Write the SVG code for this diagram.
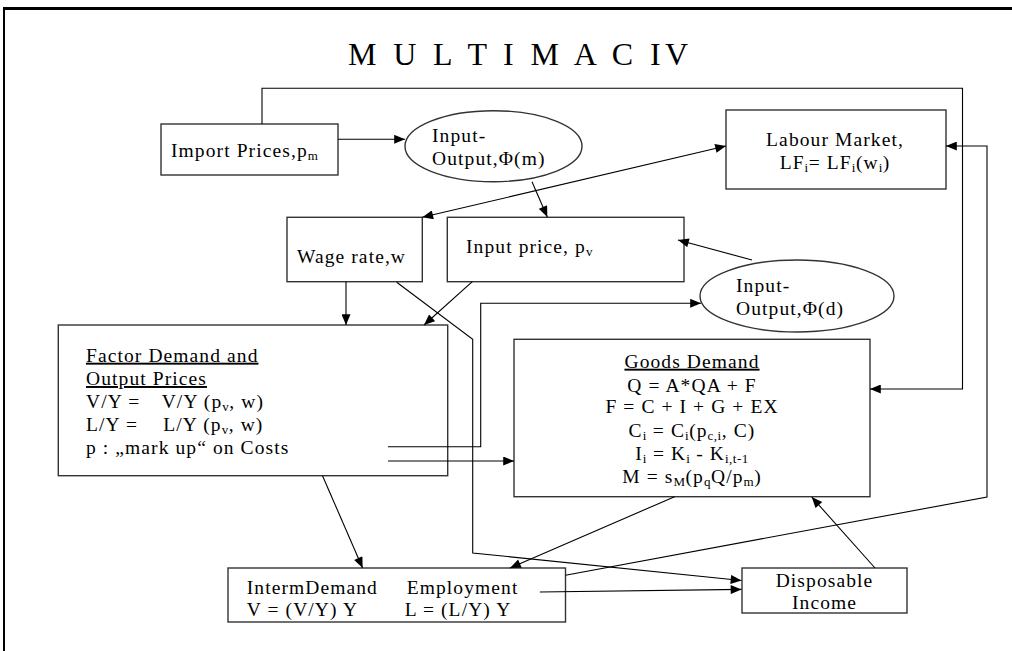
<svg xmlns="http://www.w3.org/2000/svg" width="1012" height="651" viewBox="0 0 1012 651">
<defs>
<marker id="ah" viewBox="0 0 12 10" refX="12" refY="5" markerWidth="12" markerHeight="9" markerUnits="userSpaceOnUse" orient="auto-start-reverse"><path d="M0,0 L12,5 L0,10 z" fill="#000"/></marker>
</defs>
<style>
.box{fill:#fff;stroke:#333;stroke-width:1.4}
.c{fill:none;stroke:#000;stroke-width:1.1}
text{font-family:"Liberation Serif","Times New Roman",serif;font-size:19.5px;letter-spacing:1.1px;fill:#000}
.s{font-size:13px;letter-spacing:0.5px}
.m{text-anchor:middle}
.u{text-decoration:underline}
</style>
<rect x="0" y="0" width="1012" height="651" fill="#fff"/>
<g id="frame">
<line x1="4" y1="8.5" x2="1012" y2="8.5" stroke="#000" stroke-width="3"/>
<line x1="4" y1="7" x2="4" y2="651" stroke="#000" stroke-width="2"/>
</g>
<text id="title" x="348" y="65" style="font-size:32px;letter-spacing:0" textLength="340" lengthAdjust="spacing">M U L T I M A C IV</text>

<g id="import-prices">
<rect class="box" x="161" y="124" width="177" height="51"/>
<text x="171" y="157">Import Prices,p<tspan class="s" dy="3">m</tspan></text>
</g>
<g id="io-m">
<ellipse class="box" cx="493.5" cy="146.2" rx="88.5" ry="35.5"/>
<text x="432" y="142">Input-</text>
<text x="432" y="165">Output,Φ(m)</text>
</g>
<g id="labour-market">
<rect class="box" x="726" y="110" width="220" height="79"/>
<text class="m" x="835" y="146">Labour Market,</text>
<text class="m" x="835" y="169">LF<tspan class="s" dy="3">i</tspan><tspan dy="-3">= LF</tspan><tspan class="s" dy="3">i</tspan><tspan dy="-3">(w</tspan><tspan class="s" dy="3">i</tspan><tspan dy="-3">)</tspan></text>
</g>
<g id="wage-rate">
<rect class="box" x="287" y="217.3" width="135.3" height="64.4"/>
<text x="297" y="262.5">Wage rate,w</text>
</g>
<g id="input-price">
<rect class="box" x="447.3" y="217.3" width="236.7" height="64.4"/>
<text x="466" y="253">Input price, p<tspan class="s" dy="3">v</tspan></text>
</g>
<g id="io-d">
<ellipse class="box" cx="797" cy="296" rx="97" ry="36"/>
<text x="736" y="292">Input-</text>
<text x="736" y="315">Output,Φ(d)</text>
</g>
<g id="factor-demand">
<rect class="box" x="58.3" y="325" width="389.4" height="150.7"/>
<text class="u" x="86" y="361.7">Factor Demand and</text>
<text class="u" x="86" y="385">Output Prices</text>
<text x="86" y="407.7">V/Y =<tspan x="161.7">V/Y (p</tspan><tspan class="s" dy="3">v</tspan><tspan dy="-3">, w)</tspan></text>
<text x="86" y="431">L/Y =<tspan x="163.3">L/Y (p</tspan><tspan class="s" dy="3">v</tspan><tspan dy="-3">, w)</tspan></text>
<text x="86" y="454">p : „mark up“ on Costs</text>
</g>
<g id="goods-demand">
<rect class="box" x="514" y="339.3" width="356" height="157.4"/>
<text class="m u" x="692" y="367.7">Goods Demand</text>
<text class="m" x="692" y="391.7">Q = A*QA + F</text>
<text class="m" x="692" y="413.3">F = C + I + G + EX</text>
<text class="m" x="692" y="437.3">C<tspan class="s" dy="3">i</tspan><tspan dy="-3"> = C</tspan><tspan class="s" dy="3">i</tspan><tspan dy="-3">(p</tspan><tspan class="s" dy="3">c,i</tspan><tspan dy="-3">, C)</tspan></text>
<text class="m" x="692" y="460">I<tspan class="s" dy="3">i</tspan><tspan dy="-3"> = K</tspan><tspan class="s" dy="3">i</tspan><tspan dy="-3"> - K</tspan><tspan class="s" dy="3">i,t-1</tspan></text>
<text class="m" x="692" y="482.7">M = s<tspan class="s" dy="3">M</tspan><tspan dy="-3">(p</tspan><tspan class="s" dy="3">q</tspan><tspan dy="-3">Q/p</tspan><tspan class="s" dy="3">m</tspan><tspan dy="-3">)</tspan></text>
</g>
<g id="interm-employment">
<rect class="box" x="228" y="568" width="337.5" height="54"/>
<text x="246.7" y="594">IntermDemand</text>
<text x="406.7" y="594">Employment</text>
<text x="246.7" y="616">V = (V/Y) Y</text>
<text x="404.7" y="616">L = (L/Y) Y</text>
</g>
<g id="disposable-income">
<rect class="box" x="742" y="568" width="165" height="45"/>
<text class="m" x="824.5" y="587">Disposable</text>
<text class="m" x="824.5" y="609">Income</text>
</g>

<g id="connectors">
<path class="c" d="M338,139.3 H405" marker-end="url(#ah)"/>
<path class="c" d="M262,124 V88.3 H962.5 V389 H870" marker-end="url(#ah)"/>
<path class="c" d="M422.3,217.3 L726,146" marker-start="url(#ah)" marker-end="url(#ah)"/>
<path class="c" d="M532,181.7 L547.3,217" marker-end="url(#ah)"/>
<path class="c" d="M752,260 L678,240" marker-end="url(#ah)"/>
<path class="c" d="M346,281.7 V325" marker-end="url(#ah)"/>
<path class="c" d="M472.3,281.7 L424,325" marker-end="url(#ah)"/>
<path class="c" d="M396.7,282.3 L472.7,339.3 V553 L741.5,580.5" marker-end="url(#ah)"/>
<path class="c" d="M388,446.7 H480.7 V303.3 H701" marker-end="url(#ah)"/>
<path class="c" d="M388,461 H514" marker-end="url(#ah)"/>
<path class="c" d="M322.5,475.7 L362.6,568" marker-end="url(#ah)"/>
<path class="c" d="M674.6,496.7 L510,568" marker-end="url(#ah)"/>
<path class="c" d="M539.8,592 L741.5,589.4" marker-end="url(#ah)"/>
<path class="c" d="M565.5,575.2 L987,497 V146 H946" marker-end="url(#ah)"/>
<path class="c" d="M875,568 L811.7,497" marker-end="url(#ah)"/>
</g>
</svg>
